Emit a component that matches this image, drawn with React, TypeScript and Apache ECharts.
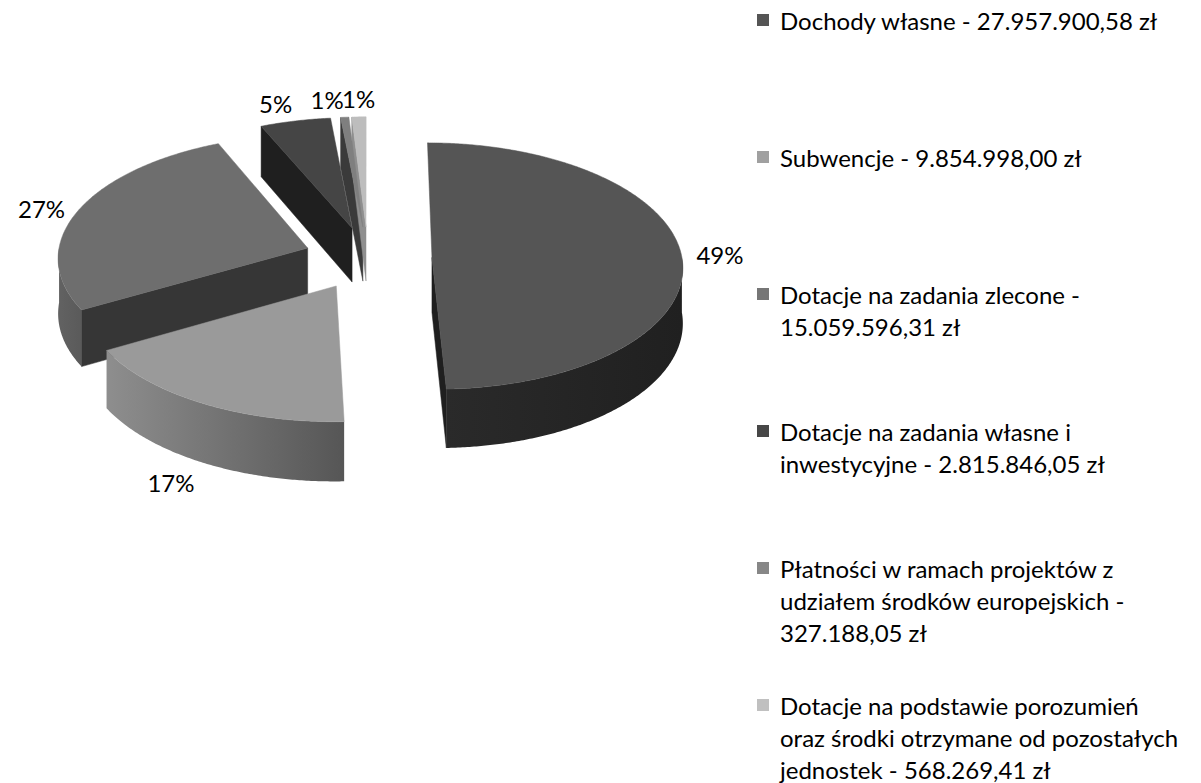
import React, { useEffect, useRef } from 'react';
import * as echarts from 'echarts';

// ---------- data ----------
const categories = [
  'Dochody własne',
  'Subwencje',
  'Dotacje na zadania zlecone',
  'Dotacje na zadania własne i inwestycyjne',
  'Płatności w ramach projektów z udziałem środków europejskich',
  'Dotacje na podstawie porozumień oraz środki otrzymane od pozostałych jednostek',
];
const values = [27957900.58, 9854998.0, 15059596.31, 2815846.05, 327188.05, 568269.41];
// legend line breaks: after how many words each line ends
const legendBreaks = [[], [], [5], [5], [5, 9], [4, 9]];

// ---------- styles ----------
const topColors = ['#555555', '#9a9a9a', '#6e6e6e', '#454545', '#7f7f7f', '#bdbdbd'];
const legendColors = ['#555555', '#a0a0a0', '#767676', '#474747', '#878787', '#c0c0c0'];
const wallColors = [
  ['#2a2a2a', '#202020'],
  ['#8e8e8e', '#565656'],
  ['#626262', '#5a5a5a'],
  ['#2a2a2a', '#2a2a2a'],
  ['#5a5a5a', '#5a5a5a'],
  ['#8a8a8a', '#8a8a8a'],
];
const cutColors = ['#1f1f1f', '#4a4a4a', '#363636', '#1f1f1f', '#3a3a3a', '#8f8f8f'];

const FONT = 'Lato, "Open Sans", sans-serif';
const FS = 24;

// geometry of the 3D view
const CX = 368;
const CY = 258;
const R = 250;
const K = 0.493;
const P = 0.07;
const D = 55;
const EXPLODE = 64;
const LABEL_R = 329;

const total = values.reduce((a, b) => a + b, 0);
const cumulative = values.map((_, i) => values.slice(0, i).reduce((a, b) => a + b, 0));

function fmtPL(v: number): string {
  const [int, dec] = v.toFixed(2).split('.');
  const withDots = int.replace(/\B(?=(\d{3})+(?!\d))/g, '.');
  return `${withDots},${dec}`;
}

function legendText(i: number): string {
  const words = `${categories[i]} - ${fmtPL(values[i])} zł`.split(' ');
  const breaks = legendBreaks[i];
  const lines: string[] = [];
  let startW = 0;
  breaks.concat([words.length]).forEach((b) => {
    lines.push(words.slice(startW, b).join(' '));
    startW = b;
  });
  return lines.join('\n');
}

function proj(X: number, Yp: number, h: number): number[] {
  const s = 1 + (P * Yp) / R;
  return [CX + X * s, CY + Yp * K * s + h * D * s];
}

const DEG = Math.PI / 180;

function renderItem(params: any, api: any) {
  const i = params.dataIndex;
  const v = api.value(0);
  const start = api.value(1);
  const a0 = (start / total) * 2 * Math.PI;
  const a1 = ((start + v) / total) * 2 * Math.PI;
  const mid = (a0 + a1) / 2;
  const ex = EXPLODE * Math.sin(mid);
  const ey = -EXPLODE * Math.cos(mid);
  const pt = (t: number, rr: number, h: number) =>
    proj(ex + rr * Math.sin(t), ey - rr * Math.cos(t), h);
  const arc = (t0: number, t1: number, h: number) => {
    const n = Math.max(2, Math.ceil((t1 - t0) / (0.5 * DEG)));
    const pts: number[][] = [];
    for (let k = 0; k <= n; k++) pts.push(pt(t0 + ((t1 - t0) * k) / n, R, h));
    return pts;
  };
  const front = -Math.cos(mid);
  const base = Math.round((front + 1) * 100) * 4;
  const children: any[] = [];

  // outer wall (visible front half)
  const w0 = Math.max(a0, 90 * DEG);
  const w1 = Math.min(a1, 270 * DEG);
  if (w1 > w0) {
    const topArc = arc(w0, w1, 0);
    const botArc = arc(w0, w1, 1).reverse();
    children.push({
      type: 'polygon',
      z2: base,
      shape: { points: topArc.concat(botArc) },
      style: {
        fill: new echarts.graphic.LinearGradient(0, 0, 1, 0, [
          { offset: 0, color: wallColors[i][0] },
          { offset: 1, color: wallColors[i][1] },
        ]),
        stroke: null,
      },
    });
  }
  const cutFace = (t: number) => ({
    type: 'polygon',
    z2: base + 1,
    shape: {
      points: [pt(t, 0, 0), pt(t, R, 0), pt(t, R, 1), pt(t, 0, 1)],
    },
    style: { fill: cutColors[i], stroke: cutColors[i], lineWidth: 0.5 },
  });
  if (a0 > Math.PI + 1e-6 && a0 < 2 * Math.PI) children.push(cutFace(a0));
  if (a1 > 0 && a1 < Math.PI - 1e-6) children.push(cutFace(a1));

  // top face
  children.push({
    type: 'polygon',
    z2: base + 2,
    shape: { points: [pt(0, 0, 0)].concat(arc(a0, a1, 0)) },
    style: { fill: topColors[i], stroke: topColors[i], lineWidth: 0.5 },
  });

  // percentage label
  const sx = Math.sin(mid);
  const isFront = front > 0.5;
  const isBack = front < -0.5;
  const lp = proj(LABEL_R * sx, -LABEL_R * Math.cos(mid), isFront ? 1 : 0);
  children.push({
    type: 'text',
    z2: 5000,
    x: lp[0],
    y: lp[1],
    style: {
      text: Math.round((v / total) * 100) + '%',
      fill: '#000000',
      fontSize: FS,
      fontFamily: FONT,
      align: sx > 0.05 ? 'left' : sx < -0.05 ? 'right' : 'center',
      verticalAlign: isFront ? 'top' : isBack ? 'bottom' : 'middle',
    },
  });

  return { type: 'group', children };
}

const LEGEND_X = 757;
const LEGEND_TOP = 20;
const LEGEND_STEP = 137;
const LH = 32;

export default function App() {
  const ref = useRef<HTMLDivElement>(null);
  useEffect(() => {
    if (!ref.current) return;
    const chart = echarts.init(ref.current, null, { renderer: 'svg' });
    const legendElements: any[] = [];
    categories.forEach((c, i) => {
      const yy = LEGEND_TOP + i * LEGEND_STEP;
      legendElements.push({
        type: 'rect',
        shape: { x: LEGEND_X, y: yy - 6, width: 12, height: 12 },
        style: { fill: legendColors[i] },
      });
      legendElements.push({
        type: 'text',
        x: LEGEND_X + 23,
        y: yy - LH / 2,
        style: {
          text: legendText(i),
          fill: '#000000',
          fontSize: FS,
          fontFamily: FONT,
          lineHeight: LH,
          verticalAlign: 'top',
        },
      });
    });
    chart.setOption({
      animation: false,
      backgroundColor: '#ffffff',
      series: [
        {
          type: 'custom',
          coordinateSystem: 'none',
          renderItem,
          data: values.map((v, i) => ({ name: categories[i], value: [v, cumulative[i]] })),
        },
      ],
      graphic: { elements: legendElements },
    });
    return () => chart.dispose();
  }, []);
  return (
    <div
      ref={ref}
      style={{ position: 'fixed', left: 0, top: 0, width: 1201, height: 783 }}
    />
  );
}
